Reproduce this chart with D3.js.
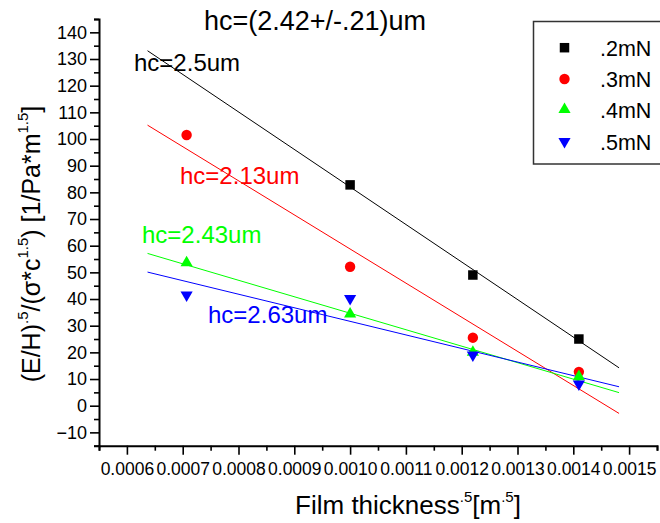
<!DOCTYPE html>
<html>
<head>
<meta charset="utf-8">
<script src="https://cdn.jsdelivr.net/npm/d3@7"></script>
<style>
  body { margin: 0; background: #fff; }
  svg text { font-family: "Liberation Sans", Arial, sans-serif; }
</style>
</head>
<body>
<div id="chart"></div>
<script>
// measured points
var xVals = [0.000707, 0.0010, 0.00122, 0.00141];
var y02 = [null, 82.8, 49, 25];
var y03 = [101.5, 52.1, 25.5, 12.7];
var y04 = [53.6, 34.4, 20, 10.9];
var y05 = [41.5, 40.2, 19, 8.1];

// fitted lines (end points)
var fitX = [0.000637, 0.001482];
var fit02 = [133.1, 14.2];
var fit03 = [105.2, -2.9];
var fit04 = [57.1, 4.9];
var fit05 = [50.1, 7.1];

var seriesNames = [".2mN", ".3mN", ".4mN", ".5mN"];
var fitLabels = ["hc=2.5um", "hc=2.13um", "hc=2.43um", "hc=2.63um"];
var xTicks = [0.0006, 0.0007, 0.0008, 0.0009, 0.0010, 0.0011, 0.0012, 0.0013, 0.0014, 0.0015];
var xMinor = [0.00055, 0.00065, 0.00075, 0.00085, 0.00095, 0.00105, 0.00115, 0.00125, 0.00135, 0.00145, 0.00155];
var yTicks = [-10, 0, 10, 20, 30, 40, 50, 60, 70, 80, 90, 100, 110, 120, 130, 140];
var yMinor = [-15, -5, 5, 15, 25, 35, 45, 55, 65, 75, 85, 95, 105, 115, 125, 135, 145];

var W = 660, H = 523;
var x = d3.scaleLinear().domain([0.00055, 0.00155]).range([99, 657]);
var y = d3.scaleLinear().domain([-15, 145]).range([445.7, 19]);

var svg = d3.select("#chart").append("svg").attr("width", W).attr("height", H);

var series = [
  {name: seriesNames[0], vals: y02, fit: fit02, color: "#000000", sym: d3.symbolSquare, size: 90, rot: 0, label: fitLabels[0], lx: 134, ly: 71, fs: 24},
  {name: seriesNames[1], vals: y03, fit: fit03, color: "#ff0000", sym: d3.symbolCircle, size: 85, rot: 0, label: fitLabels[1], lx: 180, ly: 184, fs: 24},
  {name: seriesNames[2], vals: y04, fit: fit04, color: "#00ff00", sym: d3.symbolTriangle, size: 64, rot: 0, label: fitLabels[2], lx: 142, ly: 243, fs: 24},
  {name: seriesNames[3], vals: y05, fit: fit05, color: "#0000ff", sym: d3.symbolTriangle, size: 64, rot: 180, label: fitLabels[3], lx: 208, ly: 323, fs: 24}
];

// axes
function styleAxis(g, fs) {
  g.selectAll("path.domain").attr("stroke", "#000").attr("stroke-width", 2);
  g.selectAll(".tick line").attr("stroke", "#000").attr("stroke-width", 1.6);
  g.selectAll(".tick text").attr("font-size", fs).attr("font-family", "Liberation Sans, Arial, sans-serif").attr("fill", "#000");
}
svg.append("g").attr("transform", "translate(99,0)")
  .call(d3.axisLeft(y).tickValues(yMinor).tickSize(5).tickFormat("")).call(styleAxis, 18);
svg.append("g").attr("transform", "translate(99,0)")
  .call(d3.axisLeft(y).tickValues(yTicks).tickSize(9).tickPadding(3).tickFormat(d3.format("d")))
  .call(styleAxis, 18).select("path.domain").remove();

svg.append("g").attr("transform", "translate(0,445.7)")
  .call(d3.axisBottom(x).tickValues(xMinor).tickSize(5).tickFormat("")).call(styleAxis, 17.5);
svg.append("g").attr("transform", "translate(0,445.7)")
  .call(d3.axisBottom(x).tickValues(xTicks).tickSize(9).tickPadding(8).tickFormat(d3.format(".4f")))
  .call(styleAxis, 17.5).select("path.domain").remove();

// fit lines
var line = d3.line().x(function (d) { return x(d[0]); }).y(function (d) { return y(d[1]); });
series.forEach(function (s) {
  svg.append("path")
    .attr("d", line(fitX.map(function (v, i) { return [v, s.fit[i]]; })))
    .attr("fill", "none").attr("stroke", s.color).attr("stroke-width", 1);
});

// points
series.forEach(function (s) {
  svg.append("g").selectAll("path")
    .data(xVals.map(function (v, i) { return [v, s.vals[i]]; }).filter(function (d) { return d[1] != null; }))
    .enter().append("path")
    .attr("d", d3.symbol().type(s.sym).size(s.size))
    .attr("transform", function (d) { return "translate(" + x(d[0]) + "," + y(d[1]) + ") rotate(" + s.rot + ")"; })
    .attr("fill", s.color);
});

// fit labels
series.forEach(function (s) {
  svg.append("text").attr("x", s.lx).attr("y", s.ly).attr("font-size", s.fs).attr("fill", s.color).text(s.label);
});

// title
svg.append("text").attr("x", 315).attr("y", 30).attr("text-anchor", "middle").attr("font-size", 27).text("hc=(2.42+/-.21)um");

// legend
var lg = svg.append("g");
lg.append("rect").attr("x", 533.5).attr("y", 21.5).attr("width", 140).attr("height", 142.5)
  .attr("fill", "#fff").attr("stroke", "#333").attr("stroke-width", 1.5);
var rowY = [47.7, 79, 109.5, 141.5];
series.forEach(function (s, i) {
  lg.append("path").attr("d", d3.symbol().type(s.sym).size(s.size))
    .attr("transform", "translate(564.5," + rowY[i] + ") rotate(" + s.rot + ")").attr("fill", s.color);
  lg.append("text").attr("x", 600).attr("y", rowY[i] + 8).attr("font-size", 21.5).text(s.name);
});

// axis titles
var xt = svg.append("text").attr("x", 408).attr("y", 514).attr("text-anchor", "middle").attr("font-size", 26);
xt.append("tspan").text("Film thickness");
xt.append("tspan").attr("font-size", 15).attr("dy", -12).text(".5");
xt.append("tspan").attr("dy", 12).text("[m");
xt.append("tspan").attr("font-size", 15).attr("dy", -12).text(".5");
xt.append("tspan").attr("dy", 12).text("]");

var yt = svg.append("text").attr("transform", "translate(40,244) rotate(-90)").attr("text-anchor", "middle").attr("font-size", 25);
yt.append("tspan").text("(E/H)");
yt.append("tspan").attr("font-size", 15).attr("dy", -12).text(".5");
yt.append("tspan").attr("dy", 12).text("/(σ*c");
yt.append("tspan").attr("font-size", 15).attr("dy", -12).text("1.5");
yt.append("tspan").attr("dy", 12).text(") [1/Pa*m");
yt.append("tspan").attr("font-size", 15).attr("dy", -12).text("1.5");
yt.append("tspan").attr("dy", 12).text("]");
</script>
</body>
</html>
